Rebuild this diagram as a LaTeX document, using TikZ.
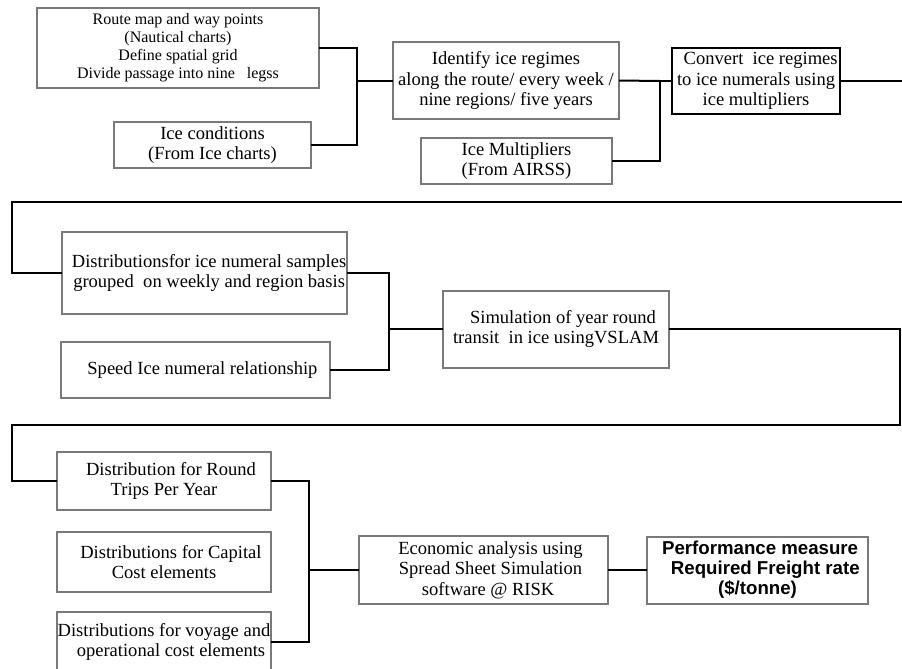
\documentclass[tikz,border=0pt]{standalone}
\usepackage{fontspec}
\setmainfont{Liberation Serif}
\newfontfamily\perffont{Liberation Sans}
\begin{document}
\begin{tikzpicture}[x=0.75pt,y=-0.75pt,
  bx/.style 2 args={draw=gray!95!black, line width=1.5pt, minimum width=#1*0.75pt, minimum height=#2*0.75pt,
    inner sep=0pt, outer sep=0pt, align=center, font=\fontsize{13.9}{15.4}\selectfont},
  bxk/.style 2 args={bx={#1}{#2}, draw=black},
  small/.style={font=\fontsize{12}{13.5}\selectfont},
  perf/.style={font=\perffont\bfseries\fontsize{14}{15}\selectfont},
  conn/.style={draw=black, line width=1.5pt}]
\useasboundingbox (0,0) rectangle (902,668);
\clip (0,0) rectangle (902,668);
% row 1
\node[bx={282}{80}, small] (route) at (178,48) {Route map and way points\\(Nautical charts)\\Define spatial grid\\Divide passage into nine\ \ \ legss};
\node[bx={197}{46}] (icec) at (212.5,145) {Ice conditions\\(From Ice charts)};
\node[bx={226}{77}] (ident) at (506,80.5) {Identify ice regimes\\along the route/ every week /\\nine regions/ five years};
\node[bx={191}{46}] (icem) at (516.5,161) {Ice Multipliers\\(From AIRSS)};
\node[bxk={168}{66}] (conv) at (756,81) {\ \ Convert\ \ ice regimes\\to ice numerals using\\ice multipliers};
% row 2
\node[bx={285}{82}] (dist) at (204.5,273) {\ \ Distributionsfor ice numeral samples\\\ \ grouped\ \ on weekly and region basis};
\node[bx={269}{56}] (speed) at (195.5,370) {\ \ \ Speed Ice numeral relationship};
\node[bx={226}{77}] (sim) at (556,329) {\ \ \ Simulation of year round\\transit\ \ in ice usingVSLAM};
% row 3
\node[bx={214}{58}] (round) at (164,481) {\ \ \ Distribution for Round\\Trips Per Year};
\node[bx={214}{60}] (capital) at (164,562) {\ \ \ Distributions for Capital\\Cost elements};
\node[bx={214}{60}] (voy) at (164,642) {Distributions for voyage and\\\ \ \ operational cost elements};
\node[bx={249}{68}] (econ) at (483.5,570) {\ \ \ Economic analysis using\\\ \ \ Spread Sheet Simulation\\\ \ software @ RISK};
\node[bx={221}{67}, perf] (perfm) at (757.5,570) {\ Performance measure\\\ \ \ Required Freight rate\\(\$/tonne)};
% connectors
\coordinate (j1) at (357,80.5);
\draw[conn] (route.east) -| (j1) |- (icec.east);
\draw[conn] (j1) -- (ident.west);
\coordinate (j2) at (660,81);
\draw[conn] (ident.east) -- (j2);
\draw[conn] (icem.east) -| (j2) -- (conv.west);
\coordinate (e1) at (903,81);
\draw[conn] (conv.east) -- (e1);
\coordinate (e2) at (903,202);
\coordinate (c1) at (12,202);
\draw[conn] (e2) -- (c1) |- (dist.west);
\coordinate (j3) at (389,329);
\draw[conn] (dist.east) -| (j3) |- (speed.east);
\draw[conn] (j3) -- (sim.west);
\coordinate (c2) at (900,425);
\coordinate (c3) at (12,425);
\draw[conn] (sim.east) -| (c2) -- (c3) |- (round.west);
\coordinate (j4) at (309,570);
\draw[conn] (round.east) -| (j4) |- (voy.east);
\draw[conn] (j4) -- (econ.west);
\draw[conn] (econ.east) -- (perfm.west);
\end{tikzpicture}
\end{document}
